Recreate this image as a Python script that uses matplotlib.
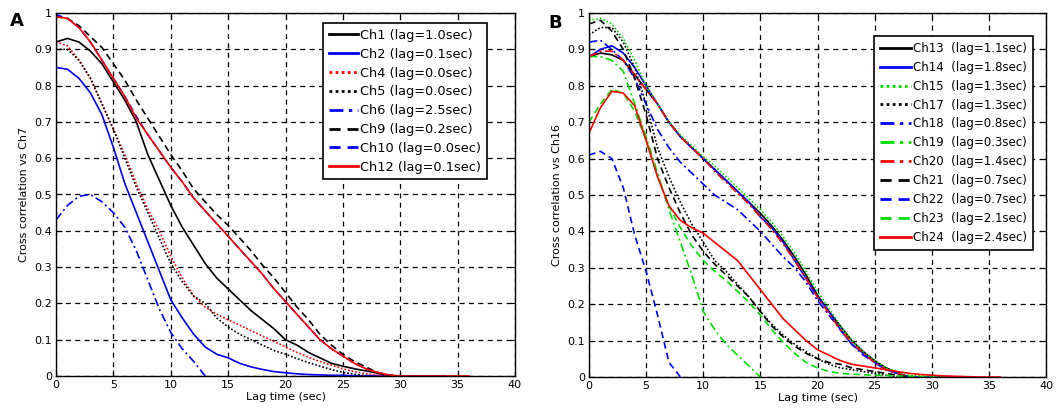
import numpy as np
import matplotlib
matplotlib.use("Agg")
import matplotlib.pyplot as plt
from matplotlib.lines import Line2D

# ---------------- Panel A data (lag time 0..36 s) ----------------
lag_a = list(range(0, 37))

a_ch1 = [0.92, 0.93, 0.92, 0.895, 0.86, 0.81, 0.76, 0.70, 0.61, 0.54, 0.47, 0.41, 0.36, 0.31,
         0.27, 0.24, 0.21, 0.18, 0.155, 0.13, 0.10, 0.085, 0.065, 0.05, 0.035, 0.027, 0.02,
         0.014, 0.008, 0.0]
a_ch2 = [0.85, 0.845, 0.82, 0.78, 0.72, 0.63, 0.53, 0.45, 0.37, 0.29, 0.21, 0.16, 0.115,
         0.08, 0.06, 0.05, 0.035, 0.025, 0.018, 0.012, 0.009, 0.006, 0.004, 0.003, 0.002,
         0.002, 0.001, 0.001, 0.001, 0.001, 0.0, 0.0, 0.0, 0.0, 0.0]
a_ch4 = [0.92, 0.91, 0.87, 0.82, 0.75, 0.68, 0.61, 0.53, 0.46, 0.40, 0.33, 0.27, 0.22, 0.19,
         0.17, 0.155, 0.14, 0.125, 0.11, 0.095, 0.08, 0.065, 0.052, 0.04, 0.03, 0.02, 0.012,
         0.006, 0.002, 0.0]
a_ch5 = [0.90, 0.90, 0.87, 0.82, 0.75, 0.68, 0.60, 0.52, 0.45, 0.38, 0.31, 0.26, 0.22, 0.20,
         0.16, 0.135, 0.115, 0.10, 0.085, 0.07, 0.06, 0.048, 0.037, 0.027, 0.018, 0.01,
         0.005, 0.0]
a_ch6 = [0.43, 0.47, 0.495, 0.50, 0.48, 0.45, 0.41, 0.345, 0.265, 0.185, 0.12, 0.075, 0.04,
         0.0]
a_ch9 = [0.99, 0.985, 0.965, 0.935, 0.905, 0.86, 0.815, 0.76, 0.71, 0.66, 0.61, 0.565,
         0.515, 0.48, 0.445, 0.415, 0.38, 0.345, 0.305, 0.27, 0.23, 0.19, 0.155, 0.115,
         0.085, 0.06, 0.04, 0.025, 0.01, 0.0]
a_ch10 = [0.995, 0.985, 0.96, 0.92, 0.87, 0.82, 0.77, 0.715, 0.665, 0.62, 0.575, 0.535,
          0.49, 0.455, 0.42, 0.385, 0.35, 0.315, 0.28, 0.24, 0.205, 0.17, 0.135, 0.10,
          0.075, 0.055, 0.035, 0.02, 0.01, 0.003, 0.0, 0.0, 0.0, 0.0, 0.0]
a_ch12 = [0.99, 0.985, 0.96, 0.92, 0.87, 0.82, 0.77, 0.71, 0.665, 0.62, 0.575, 0.535, 0.49,
          0.455, 0.42, 0.385, 0.35, 0.315, 0.28, 0.24, 0.205, 0.17, 0.135, 0.10, 0.075,
          0.055, 0.035, 0.02, 0.01, 0.003, 0.0, 0.0, 0.0, 0.0, 0.0, 0.0, 0.0]

labels_a = ["Ch1 (lag=1.0sec)", "Ch2 (lag=0.1sec)", "Ch4 (lag=0.0sec)", "Ch5 (lag=0.0sec)",
            "Ch6 (lag=2.5sec)", "Ch9 (lag=0.2sec)", "Ch10 (lag=0.0sec)", "Ch12 (lag=0.1sec)"]

# ---------------- Panel B data (lag time 0..36 s) ----------------
lag_b = list(range(0, 37))

b_ch13 = [0.88, 0.89, 0.885, 0.87, 0.83, 0.79, 0.75, 0.70, 0.66, 0.63, 0.60, 0.57, 0.54,
          0.51, 0.48, 0.45, 0.415, 0.375, 0.33, 0.28, 0.225, 0.18, 0.14, 0.10, 0.07, 0.045,
          0.025, 0.012, 0.0]
b_ch14 = [0.88, 0.90, 0.91, 0.89, 0.85, 0.80, 0.75, 0.70, 0.66, 0.63, 0.60, 0.57, 0.54,
          0.51, 0.48, 0.44, 0.41, 0.37, 0.32, 0.27, 0.22, 0.18, 0.13, 0.09, 0.065, 0.04,
          0.02, 0.01, 0.0, 0.0, 0.0, 0.0]
b_ch15 = [0.98, 0.985, 0.97, 0.93, 0.87, 0.80, 0.75, 0.70, 0.665, 0.635, 0.605, 0.58,
          0.55, 0.52, 0.49, 0.46, 0.425, 0.385, 0.34, 0.29, 0.235, 0.19, 0.14, 0.10, 0.07,
          0.045, 0.025, 0.012, 0.005, 0.003, 0.002, 0.001, 0.0, 0.0]
b_ch17 = [0.94, 0.96, 0.96, 0.92, 0.85, 0.75, 0.63, 0.55, 0.48, 0.42, 0.37, 0.32, 0.29,
          0.255, 0.22, 0.18, 0.145, 0.115, 0.09, 0.07, 0.05, 0.035, 0.025, 0.02, 0.015,
          0.01, 0.005, 0.0]
b_ch18 = [0.92, 0.925, 0.90, 0.87, 0.82, 0.75, 0.68, 0.63, 0.59, 0.56, 0.53, 0.50, 0.48,
          0.46, 0.43, 0.40, 0.365, 0.33, 0.30, 0.26, 0.21, 0.17, 0.13, 0.09, 0.06, 0.04,
          0.02, 0.01, 0.0]
b_ch19 = [0.88, 0.88, 0.87, 0.84, 0.75, 0.66, 0.56, 0.46, 0.37, 0.28, 0.18, 0.13, 0.09,
          0.06, 0.03, 0.0]
b_ch20 = [0.88, 0.895, 0.895, 0.87, 0.83, 0.79, 0.75, 0.70, 0.66, 0.63, 0.60, 0.565,
          0.535, 0.505, 0.475, 0.44, 0.405, 0.365, 0.32, 0.27, 0.22, 0.175, 0.13, 0.095,
          0.065, 0.04, 0.02, 0.01, 0.0]
b_ch21 = [0.97, 0.98, 0.95, 0.90, 0.82, 0.72, 0.60, 0.52, 0.45, 0.39, 0.345, 0.31, 0.28,
          0.25, 0.22, 0.18, 0.14, 0.11, 0.085, 0.065, 0.05, 0.04, 0.035, 0.025, 0.02,
          0.015, 0.01, 0.005, 0.0]
b_ch22 = [0.61, 0.62, 0.60, 0.52, 0.39, 0.29, 0.17, 0.04, 0.0]
b_ch23 = [0.70, 0.75, 0.79, 0.78, 0.73, 0.65, 0.55, 0.47, 0.41, 0.36, 0.32, 0.29, 0.265,
          0.235, 0.205, 0.17, 0.13, 0.095, 0.065, 0.04, 0.025, 0.015, 0.01, 0.008, 0.006,
          0.005, 0.004, 0.003, 0.002, 0.001, 0.0, 0.0, 0.0, 0.0]
b_ch24 = [0.67, 0.74, 0.785, 0.78, 0.745, 0.65, 0.55, 0.47, 0.43, 0.41, 0.395, 0.37,
          0.345, 0.32, 0.28, 0.24, 0.20, 0.16, 0.13, 0.10, 0.075, 0.06, 0.045, 0.035, 0.03,
          0.025, 0.02, 0.015, 0.01, 0.007, 0.005, 0.003, 0.002, 0.001, 0.0, 0.0, 0.0]

labels_b = ["Ch13  (lag=1.1sec)", "Ch14  (lag=1.8sec)", "Ch15  (lag=1.3sec)",
            "Ch17  (lag=1.3sec)", "Ch18  (lag=0.8sec)", "Ch19  (lag=0.3sec)",
            "Ch20  (lag=1.4sec)", "Ch21  (lag=0.7sec)", "Ch22  (lag=0.7sec)",
            "Ch23  (lag=2.1sec)", "Ch24  (lag=2.4sec)"]

x_ticks = list(range(0, 41, 5))
y_ticks = [0, 0.1, 0.2, 0.3, 0.4, 0.5, 0.6, 0.7, 0.8, 0.9, 1]
y_tick_labels = ["0", "0.1", "0.2", "0.3", "0.4", "0.5", "0.6", "0.7", "0.8", "0.9", "1"]

GREEN = "#00e000"
DOT = (0, (1, 1.2))
DASH = (0, (4, 2.5))
DASHDOT = (0, (5, 2, 1.2, 2))
LW = 1.2

plt.rcParams["font.family"] = ["DejaVu Sans"]
plt.rcParams["font.size"] = 8

fig = plt.figure(figsize=(10.62, 4.15), dpi=100)
axA = fig.add_axes([56 / 1062, 39 / 415, 459 / 1062, 363 / 415])
axB = fig.add_axes([589 / 1062, 38 / 415, 457 / 1062, 364 / 415])


def series(ax, xs, ys, color, ls, label):
    n = len(ys)
    ax.plot(xs[:n], ys, color=color, linestyle=ls, linewidth=LW, label=label)


# Panel A
series(axA, lag_a, a_ch10, "blue", DASH, None)
series(axA, lag_a, a_ch1, "black", "-", labels_a[0])
series(axA, lag_a, a_ch2, "blue", "-", labels_a[1])
series(axA, lag_a, a_ch4, "red", DOT, labels_a[2])
series(axA, lag_a, a_ch5, "black", DOT, labels_a[3])
series(axA, lag_a, a_ch6, "blue", DASHDOT, labels_a[4])
series(axA, lag_a, a_ch9, "black", DASH, labels_a[5])
series(axA, lag_a, a_ch12, "red", "-", labels_a[7])

# Panel B
series(axB, lag_b, b_ch13, "black", "-", labels_b[0])
series(axB, lag_b, b_ch14, "blue", "-", labels_b[1])
series(axB, lag_b, b_ch15, GREEN, DOT, labels_b[2])
series(axB, lag_b, b_ch17, "black", DOT, labels_b[3])
series(axB, lag_b, b_ch18, "blue", DASHDOT, labels_b[4])
series(axB, lag_b, b_ch19, GREEN, DASHDOT, labels_b[5])
series(axB, lag_b, b_ch20, "red", DASHDOT, labels_b[6])
series(axB, lag_b, b_ch21, "black", DASH, labels_b[7])
series(axB, lag_b, b_ch22, "blue", DASH, labels_b[8])
series(axB, lag_b, b_ch23, GREEN, DASH, labels_b[9])
series(axB, lag_b, b_ch24, "red", "-", labels_b[10])

styles_a = [("black", "-"), ("blue", "-"), ("red", DOT), ("black", DOT),
            ("blue", DASHDOT), ("black", DASH), ("blue", DASH), ("red", "-")]
styles_b = [("black", "-"), ("blue", "-"), (GREEN, DOT), ("black", DOT),
            ("blue", DASHDOT), (GREEN, DASHDOT), ("red", DASHDOT), ("black", DASH),
            ("blue", DASH), (GREEN, DASH), ("red", "-")]
handles_a = [Line2D([], [], color=c, ls=s, lw=2) for c, s in styles_a]
handles_b = [Line2D([], [], color=c, ls=s, lw=2) for c, s in styles_b]

for ax, ylab in ((axA, "Cross correlation vs Ch7"), (axB, "Cross correlation vs Ch16")):
    ax.set_xlim(0, 40)
    ax.set_ylim(0, 1)
    ax.set_xticks(x_ticks)
    ax.set_yticks(y_ticks)
    ax.set_yticklabels(y_tick_labels)
    ax.tick_params(direction="in", top=True, right=True, length=4, width=0.8,
                   labelsize=8, pad=3)
    ax.grid(True, color="black", linestyle=(0, (4, 3.5)), linewidth=0.9)
    ax.set_xlabel("Lag time (sec)", fontsize=8, labelpad=1)
    ax.set_ylabel(ylab, fontsize=8, labelpad=4)
    for s in ax.spines.values():
        s.set_linewidth(1.0)
        s.set_color("black")

legA = axA.legend(handles_a, labels_a, loc="upper right", bbox_to_anchor=(0.939, 0.972),
                  fontsize=9.3, frameon=True, fancybox=False, framealpha=1,
                  edgecolor="black", handlelength=2.3, handletextpad=0.15,
                  labelspacing=0.45, borderpad=0.45, borderaxespad=0)
legA.get_frame().set_linewidth(1.2)
legB = axB.legend(handles_b, labels_b, loc="upper right", bbox_to_anchor=(0.971, 0.937),
                  fontsize=8.5, frameon=True, fancybox=False, framealpha=1,
                  edgecolor="black", handlelength=2.6, handletextpad=0.15,
                  labelspacing=0.5, borderpad=0.5, borderaxespad=0)
legB.get_frame().set_linewidth(1.2)

fig.text(17 / 1062, 1 - 21 / 415, "A", fontsize=13, fontweight="bold",
         ha="center", va="center")
fig.text(555 / 1062, 1 - 23 / 415, "B", fontsize=13, fontweight="bold",
         ha="center", va="center")

fig.savefig("out.png", dpi=100)
